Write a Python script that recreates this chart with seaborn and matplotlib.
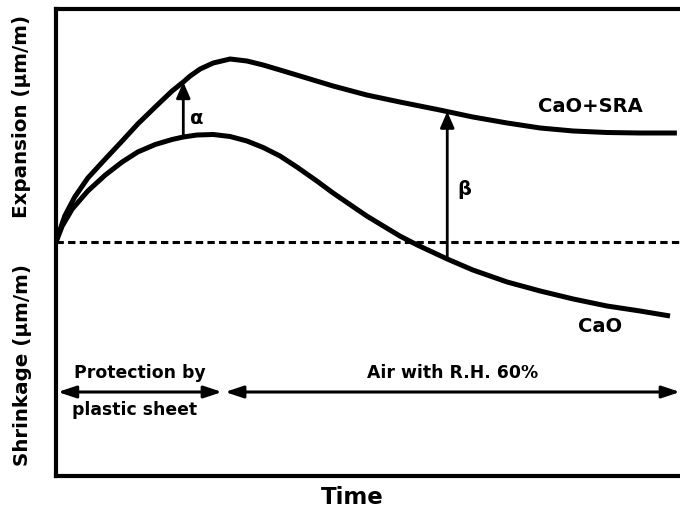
import matplotlib
matplotlib.use("Agg")
import matplotlib.pyplot as plt
import numpy as np
import pandas as pd
import seaborn as sns

# Schematic readings (time in % of test, strain in arbitrary units)
sra_time = [0.0, 0.3, 1.4, 3.0, 5.1, 7.9, 10.6, 13.1, 15.9, 18.6, 20.4, 21.5,
            23.1, 25.2, 27.9, 30.6, 33.2, 35.9, 39.1, 44.4, 49.8, 55.1, 61.5,
            66.8, 72.3, 77.6, 82.9, 88.3, 93.6, 99.5]
sra_strain = [0, 6, 26, 45, 64, 83, 101, 118, 135, 151, 160, 166,
              173, 179, 183, 181, 177, 172, 166, 156, 147, 140, 132,
              125, 119, 114, 111, 109.5, 109, 109]

cao_time = [0.0, 1.0, 2.6, 5.1, 7.9, 10.6, 13.1, 15.9, 18.6, 20.4, 22.6, 25.2,
            27.9, 30.6, 33.2, 35.9, 38.6, 41.8, 44.4, 49.8, 55.1, 57.9, 62.7,
            66.8, 72.3, 77.6, 82.9, 88.3, 93.6, 98.4]
cao_strain = [0, 16, 33, 51, 67, 80, 90, 97.5, 102.5, 105, 107, 107.5,
              105.5, 101, 94.5, 86, 75, 61, 49, 26, 6, -3, -17,
              -28, -40, -49, -57, -64, -69, -74]

# gaps marked between the curves
gap_labels = ["α", "β"]
gap_times = [20.4, 62.7]

# curing phases along the time axis
phase_labels = ["Protection by\nplastic sheet", "Air with R.H. 60%"]
phase_start = [0.3, 27.1]
phase_end = [26.6, 100]

sns.set_theme(style="white")
plt.rcParams['font.family'] = ['DejaVu Sans']
plt.rcParams['text.color'] = 'black'

df = pd.concat([
    pd.DataFrame({"time": sra_time, "strain": sra_strain, "mix": "CaO+SRA"}),
    pd.DataFrame({"time": cao_time, "strain": cao_strain, "mix": "CaO"}),
])

fig = plt.figure(figsize=(6.8, 5.08), dpi=100)
ax = fig.add_axes([56 / 680, 32 / 508, 624 / 680, 467 / 508])

sns.lineplot(data=df, x="time", y="strain", units="mix", estimator=None,
             sort=False, color="black", linewidth=3.6, ax=ax, legend=False,
             solid_joinstyle="round", solid_capstyle="butt")

ax.axhline(0, color="black", linewidth=2.2, linestyle=(0, (2.4, 1.4)))

ax.set_xlim(0, 100)
ax.set_ylim(-234, 233)
ax.set_xticks([])
ax.set_yticks([])
ax.set_xlabel("")
ax.set_ylabel("")
for side in ["left", "bottom", "top"]:
    ax.spines[side].set_linewidth(3)
    ax.spines[side].set_color("black")
ax.spines["right"].set_visible(False)

fs = 12.4
# gap arrows
for lab, t, dx, frac in zip(gap_labels, gap_times, [2.2, 2.8], [0.33, 0.47]):
    lo = np.interp(t, cao_time, cao_strain)
    hi = np.interp(t, sra_time, sra_strain)
    ax.annotate("", xy=(t, hi), xytext=(t, lo),
                arrowprops=dict(arrowstyle="-|>,head_length=0.8,head_width=0.35",
                                color="black", lw=2, shrinkA=0, shrinkB=0))
    ax.text(t + dx, lo + frac * (hi - lo), lab,
            ha="center", va="center", fontsize=14, fontweight="bold")

# phase arrows
for lab, a, b in zip(phase_labels, phase_start, phase_end):
    ax.annotate("", xy=(b, -150), xytext=(a, -150),
                arrowprops=dict(arrowstyle="<|-|>,head_length=0.9,head_width=0.3",
                                color="black", lw=2.2, shrinkA=0, shrinkB=0))
    lines = lab.split("\n")
    ax.text((a + b) / 2, -131, lines[0], ha="center", va="center",
            fontsize=fs, fontweight="bold")
    if len(lines) > 1:
        ax.text((a + b) / 2 - 0.8, -168, lines[1], ha="center", va="center",
                fontsize=fs, fontweight="bold")

ax.text(85.6, 135, "CaO+SRA", ha="center", va="center", fontsize=14, fontweight="bold")
ax.text(87.2, -85, "CaO", ha="center", va="center", fontsize=14, fontweight="bold")

fig.text(22 / 680, 1 - 116 / 508, "Expansion (μm/m)", rotation=90, ha="center",
         va="center", fontsize=14.3, fontweight="bold")
fig.text(22 / 680, 1 - 365 / 508, "Shrinkage (μm/m)", rotation=90, ha="center",
         va="center", fontsize=14.3, fontweight="bold")
fig.text(352 / 680, 1 - 497 / 508, "Time", ha="center", va="center",
         fontsize=16.5, fontweight="bold")

fig.savefig("out.png", dpi=100, facecolor="white")
